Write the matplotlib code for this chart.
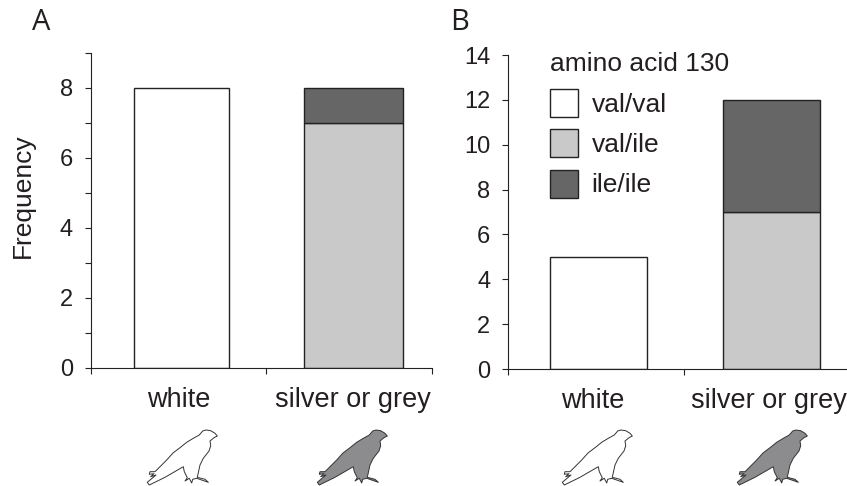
import numpy as np
import matplotlib
matplotlib.use('Agg')
import matplotlib.pyplot as plt
from matplotlib.patches import Patch, PathPatch
from matplotlib.path import Path
from matplotlib.transforms import Affine2D

plt.rcParams['font.family'] = ['Liberation Sans']

W, H = 847, 486
categories = ['white', 'silver or grey']
genotypes = ['val/val', 'val/ile', 'ile/ile']
colors = ['white', '#c9c9c9', '#666666']
edge = '#222222'
text_color = '#231f20'

# counts per genotype, one row per panel
counts_a = [[8, 0], [0, 7], [0, 1]]
counts_b = [[5, 0], [0, 7], [0, 5]]

# bird outline (pixels, y down)
bird_x = [77.3, 75, 70.7, 66, 62.7, 59.3, 53.3, 46.7, 40, 33, 26.7, 20, 15, 10, 9.3, 14, 10.7,
          16, 7.3, 9.3, 25, 43.3, 44.3, 47.3, 45, 49.3, 51.7, 52.7, 56.7, 68.3, 65, 57.3, 60,
          63.3, 69, 70.7, 70, 74, 77.3]
bird_y = [11, 8.3, 5.7, 5, 6, 10, 13.3, 17.3, 22.7, 28, 35, 41.7, 46.7, 46.7, 49.3, 48.7, 51.7,
          50, 57.3, 60, 52.3, 41.7, 46.7, 52.7, 56, 53.3, 58, 54.3, 53.3, 57.3, 54.3, 52.3, 40,
          33.3, 26, 20.7, 16, 12.7, 11]

fig = plt.figure(figsize=(W / 100, H / 100), dpi=100)


def make_axes(left, right, top, bottom):
    return fig.add_axes([left / W, 1 - bottom / H, (right - left) / W, (bottom - top) / H])


def draw_panel(ax, counts, centers, widths, ymax, yticks, yminor, xticks, label_pos):
    bottoms = np.zeros(2)
    for row, color in zip(counts, colors):
        row = np.array(row, dtype=float)
        keep = row > 0
        ax.bar(np.array(centers)[keep], row[keep], width=np.array(widths)[keep],
               bottom=bottoms[keep], color=color, edgecolor=edge, linewidth=1.0, zorder=2)
        bottoms += row
    ax.set_xlim(0, 2)
    ax.set_ylim(0, ymax)
    ax.set_yticks(yticks)
    ax.set_yticks(yminor, minor=True)
    ax.set_xticks(xticks)
    ax.set_xticklabels([])
    ax.set_xticks(label_pos, categories, minor=True)
    ax.spines[['top', 'right']].set_visible(False)
    ax.spines[['left', 'bottom']].set_linewidth(0.8)
    ax.spines[['left', 'bottom']].set_color(edge)
    ax.tick_params(axis='y', which='both', length=4.2, width=0.8, color=edge)
    ax.tick_params(axis='y', which='major', labelsize=17, pad=8.5, labelcolor=text_color)
    ax.tick_params(axis='x', which='major', length=4, width=0.8, color=edge)
    ax.tick_params(axis='x', which='minor', length=0, labelsize=19.5, pad=14, labelcolor=text_color)


def draw_bird(ox, oy, face):
    verts = np.column_stack([bird_x, bird_y])
    codes = [Path.MOVETO] + [Path.LINETO] * (len(verts) - 2) + [Path.CLOSEPOLY]
    tr = Affine2D().translate(ox, oy).scale(1 / W, -1 / H).translate(0, 1) + fig.transFigure
    fig.add_artist(PathPatch(Path(verts, codes), facecolor=face, edgecolor='#333333',
                             linewidth=0.7, joinstyle='round', transform=tr))


ax_a = make_axes(90.7, 431.7, 53, 367.7)
draw_panel(ax_a, counts_a, [0.534, 1.54], [0.559, 0.58], 9,
           [0, 2, 4, 6, 8], [1, 3, 5, 7, 9], [0, 1.026, 2], [0.518, 1.538])
ax_a.set_ylabel('Frequency', fontsize=19, color=text_color)
ax_a.yaxis.set_label_coords((35 - 90.7) / 341, (367.7 - 196) / 314.7)

ax_b = make_axes(508, 860, 55, 369)
draw_panel(ax_b, counts_b, [0.516, 1.4955], [0.553, 0.551], 14,
           [0, 2, 4, 6, 8, 10, 12, 14], [], [0, 1.0, 2], [0.48, 1.483])

handles = [Patch(facecolor=c, edgecolor=edge, linewidth=1.0) for c in colors]
leg = ax_b.legend(handles, genotypes, loc='upper left',
                  bbox_to_anchor=(42 / 352, (369 - 89) / 314), frameon=False, fontsize=19,
                  borderpad=0, borderaxespad=0,
                  handlelength=1.05, handleheight=1.25, labelspacing=0.47,
                  handletextpad=0.53)
for t in leg.get_texts():
    t.set_color(text_color)
fig.text(550 / W, 1 - 71 / H, 'amino acid 130', fontsize=19, color=text_color)

fig.text(32 / W, 1 - 30 / H, 'A', fontsize=21, family='Open Sans', color=text_color)
fig.text(450 / W, 1 - 30 / H, 'B', fontsize=21, family='Open Sans', color=text_color)

draw_bird(140, 425, 'white')
draw_bird(310, 425, '#8c8c8e')
draw_bird(555, 425, 'white')
draw_bird(730, 425, '#8c8c8e')

fig.savefig('out.png', dpi=100)
